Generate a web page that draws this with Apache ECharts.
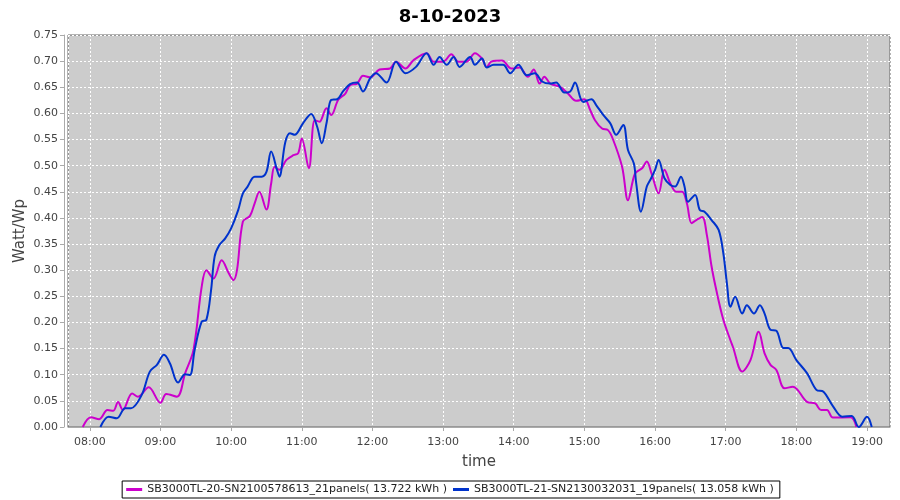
<!DOCTYPE html>
<html><head><meta charset="utf-8">
<script src="https://cdn.jsdelivr.net/npm/echarts@6/dist/echarts.min.js"></script>
<style>html,body{margin:0;padding:0;background:#fff}#c{width:900px;height:500px}</style>
</head><body><div id="c"></div>
<script>
const chartTitle = "8-10-2023";
const seriesNames = ["SB3000TL-20-SN2100578613_21panels( 13.722 kWh )", "SB3000TL-21-SN2130032031_19panels( 13.058 kWh )"];
const times1 = ["07:54","08:01","08:08","08:15","08:20","08:24","08:28","08:36","08:41","08:50","09:00","09:05","09:14","09:21","09:28","09:35","09:39","09:45","09:52","09:58","10:02","10:05","10:10","10:16","10:20","10:24","10:30","10:34","10:37","10:41","10:47","10:53","10:57","11:00","11:06","11:11","11:15","11:21","11:25","11:31","11:37","11:41","11:47","11:52","11:58","12:06","12:15","12:20","12:28","12:35","12:46","12:52","13:00","13:07","13:13","13:20","13:27","13:33","13:37","13:41","13:50","13:58","14:05","14:12","14:17","14:22","14:26","14:31","14:39","14:46","14:53","15:00","15:05","15:09","15:15","15:20","15:24","15:32","15:37","15:43","15:49","15:53","15:57","16:03","16:08","16:13","16:18","16:23","16:27","16:31","16:35","16:40","16:44","16:48","16:52","16:58","17:04","17:06","17:14","17:21","17:28","17:33","17:38","17:43","17:50","17:57","18:09","18:16","18:21","18:26","18:31","18:46","18:51"];
const vals1 = [0,0.0185,0.015,0.0325,0.031,0.048,0.0325,0.064,0.058,0.076,0.0465,0.063,0.058,0.103,0.147,0.268,0.300,0.284,0.319,0.294,0.281,0.300,0.393,0.404,0.428,0.450,0.416,0.466,0.498,0.492,0.511,0.520,0.524,0.552,0.495,0.587,0.584,0.610,0.597,0.626,0.638,0.654,0.657,0.672,0.669,0.684,0.686,0.699,0.686,0.702,0.715,0.699,0.699,0.713,0.699,0.699,0.715,0.705,0.689,0.699,0.701,0.686,0.688,0.670,0.684,0.657,0.670,0.657,0.651,0.638,0.624,0.627,0.606,0.587,0.571,0.568,0.552,0.498,0.434,0.485,0.495,0.508,0.485,0.447,0.492,0.466,0.450,0.450,0.428,0.390,0.396,0.402,0.367,0.307,0.262,0.205,0.166,0.154,0.106,0.128,0.182,0.141,0.119,0.109,0.074,0.077,0.048,0.045,0.0325,0.0325,0.018,0.0185,0];
const times2 = ["08:09","08:16","08:23","08:30","08:35","08:44","08:51","08:57","09:03","09:08","09:15","09:21","09:25","09:29","09:35","09:39","09:43","09:46","09:50","09:55","10:00","10:06","10:10","10:14","10:20","10:26","10:30","10:34","10:39","10:41","10:46","10:50","10:54","11:01","11:08","11:13","11:17","11:21","11:25","11:30","11:35","11:41","11:47","11:52","11:58","12:03","12:12","12:20","12:28","12:37","12:46","12:52","12:57","13:03","13:09","13:14","13:23","13:27","13:33","13:37","13:43","13:51","13:57","14:04","14:11","14:18","14:24","14:31","14:36","14:43","14:48","14:52","14:59","15:06","15:10","15:16","15:22","15:27","15:33","15:37","15:42","15:44","15:48","15:53","15:56","16:00","16:03","16:08","16:13","16:17","16:22","16:25","16:28","16:34","16:38","16:42","16:48","16:54","16:58","17:01","17:04","17:08","17:14","17:18","17:24","17:29","17:33","17:38","17:43","17:49","17:53","18:00","18:09","18:17","18:23","18:31","18:39","18:47","18:53","19:00","19:04"];
const vals2 = [0,0.0197,0.0166,0.036,0.036,0.061,0.106,0.119,0.138,0.122,0.085,0.101,0.0995,0.147,0.2015,0.205,0.262,0.326,0.348,0.361,0.380,0.415,0.447,0.460,0.479,0.479,0.488,0.527,0.492,0.479,0.545,0.562,0.559,0.581,0.599,0.575,0.543,0.581,0.626,0.627,0.642,0.656,0.659,0.642,0.667,0.677,0.659,0.699,0.677,0.689,0.715,0.693,0.708,0.693,0.708,0.689,0.708,0.693,0.705,0.688,0.693,0.693,0.677,0.693,0.673,0.677,0.661,0.657,0.659,0.640,0.642,0.659,0.622,0.627,0.616,0.597,0.581,0.559,0.578,0.530,0.504,0.466,0.412,0.460,0.473,0.492,0.511,0.476,0.463,0.460,0.479,0.460,0.431,0.444,0.415,0.412,0.396,0.377,0.332,0.275,0.230,0.249,0.217,0.233,0.217,0.233,0.217,0.186,0.184,0.151,0.151,0.128,0.103,0.071,0.0675,0.040,0.0197,0.021,0,0.0197,0];
const xMin = "07:41", xMax = "19:19";

function ts(hm){ const p = hm.split(':'); return new Date(2023, 9, 8, +p[0], +p[1]).getTime(); }
function pad(n){ return (n<10?'0':'')+n; }
const d1 = times1.map((t,i)=>[ts(t), vals1[i]]);
const d2 = times2.map((t,i)=>[ts(t), vals2[i]]);
const font = "DejaVu Sans";
const chart = echarts.init(document.getElementById('c'), null, {renderer:'canvas'});
chart.setOption({
  animation:false,
  backgroundColor:'#ffffff',
  title:{text:chartTitle, left:'center', top:3, textStyle:{fontFamily:font, fontSize:18, fontWeight:'bold', color:'#000'}},
  grid:{left:68, right:10, top:35, bottom:73, show:true, backgroundColor:'#cccccc', borderColor:'#666', borderWidth:1},
  legend:{bottom:2, left:'center', data:seriesNames, icon:'rect', itemWidth:16, itemHeight:3, itemGap:6,
    borderColor:'#000', borderWidth:1, padding:[3,6,3,4], borderRadius:0,
    textStyle:{fontFamily:font, fontSize:11, color:'#222'}},
  xAxis:{type:'time', min:ts(xMin)+30000, max:ts(xMax)+30000, minInterval:3600000, maxInterval:3600000,
    name:'time', nameLocation:'middle', nameGap:24, nameMoveOverlap:false, nameTextStyle:{fontFamily:font, fontSize:15, color:'#444'},
    offset:4,
    axisLine:{show:true, lineStyle:{color:'#aaa'}}, axisTick:{show:true, length:4, lineStyle:{color:'#aaa'}},
    axisLabel:{fontFamily:font, fontSize:11, color:'#444', margin:6, showMinLabel:false, showMaxLabel:false,
      formatter:function(v){const d=new Date(v);return pad(d.getHours())+':'+pad(d.getMinutes());}},
    splitLine:{show:true, lineStyle:{color:'#ffffff', type:[2,2], width:1}}},
  yAxis:{type:'value', min:0, max:0.75, interval:0.05,
    name:'Watt/Wp', nameLocation:'middle', nameGap:36, nameMoveOverlap:false, nameTextStyle:{fontFamily:font, fontSize:15, color:'#444'},
    offset:4,
    axisLine:{show:true, lineStyle:{color:'#aaa'}}, axisTick:{show:true, length:4, lineStyle:{color:'#aaa'}},
    axisLabel:{fontFamily:font, fontSize:11, color:'#444', margin:6, formatter:function(v){return v.toFixed(2);}},
    splitLine:{show:true, lineStyle:{color:'#ffffff', type:[2,2], width:1}}},
  series:[
    {name:seriesNames[0], type:'line', data:d1, smooth:0.35, showSymbol:false, symbol:'none', lineStyle:{color:'#cc00cc', width:2}, itemStyle:{color:'#cc00cc'}},
    {name:seriesNames[1], type:'line', data:d2, smooth:0.35, showSymbol:false, symbol:'none', lineStyle:{color:'#0033cc', width:2}, itemStyle:{color:'#0033cc'}}
  ]
});
</script></body></html>
